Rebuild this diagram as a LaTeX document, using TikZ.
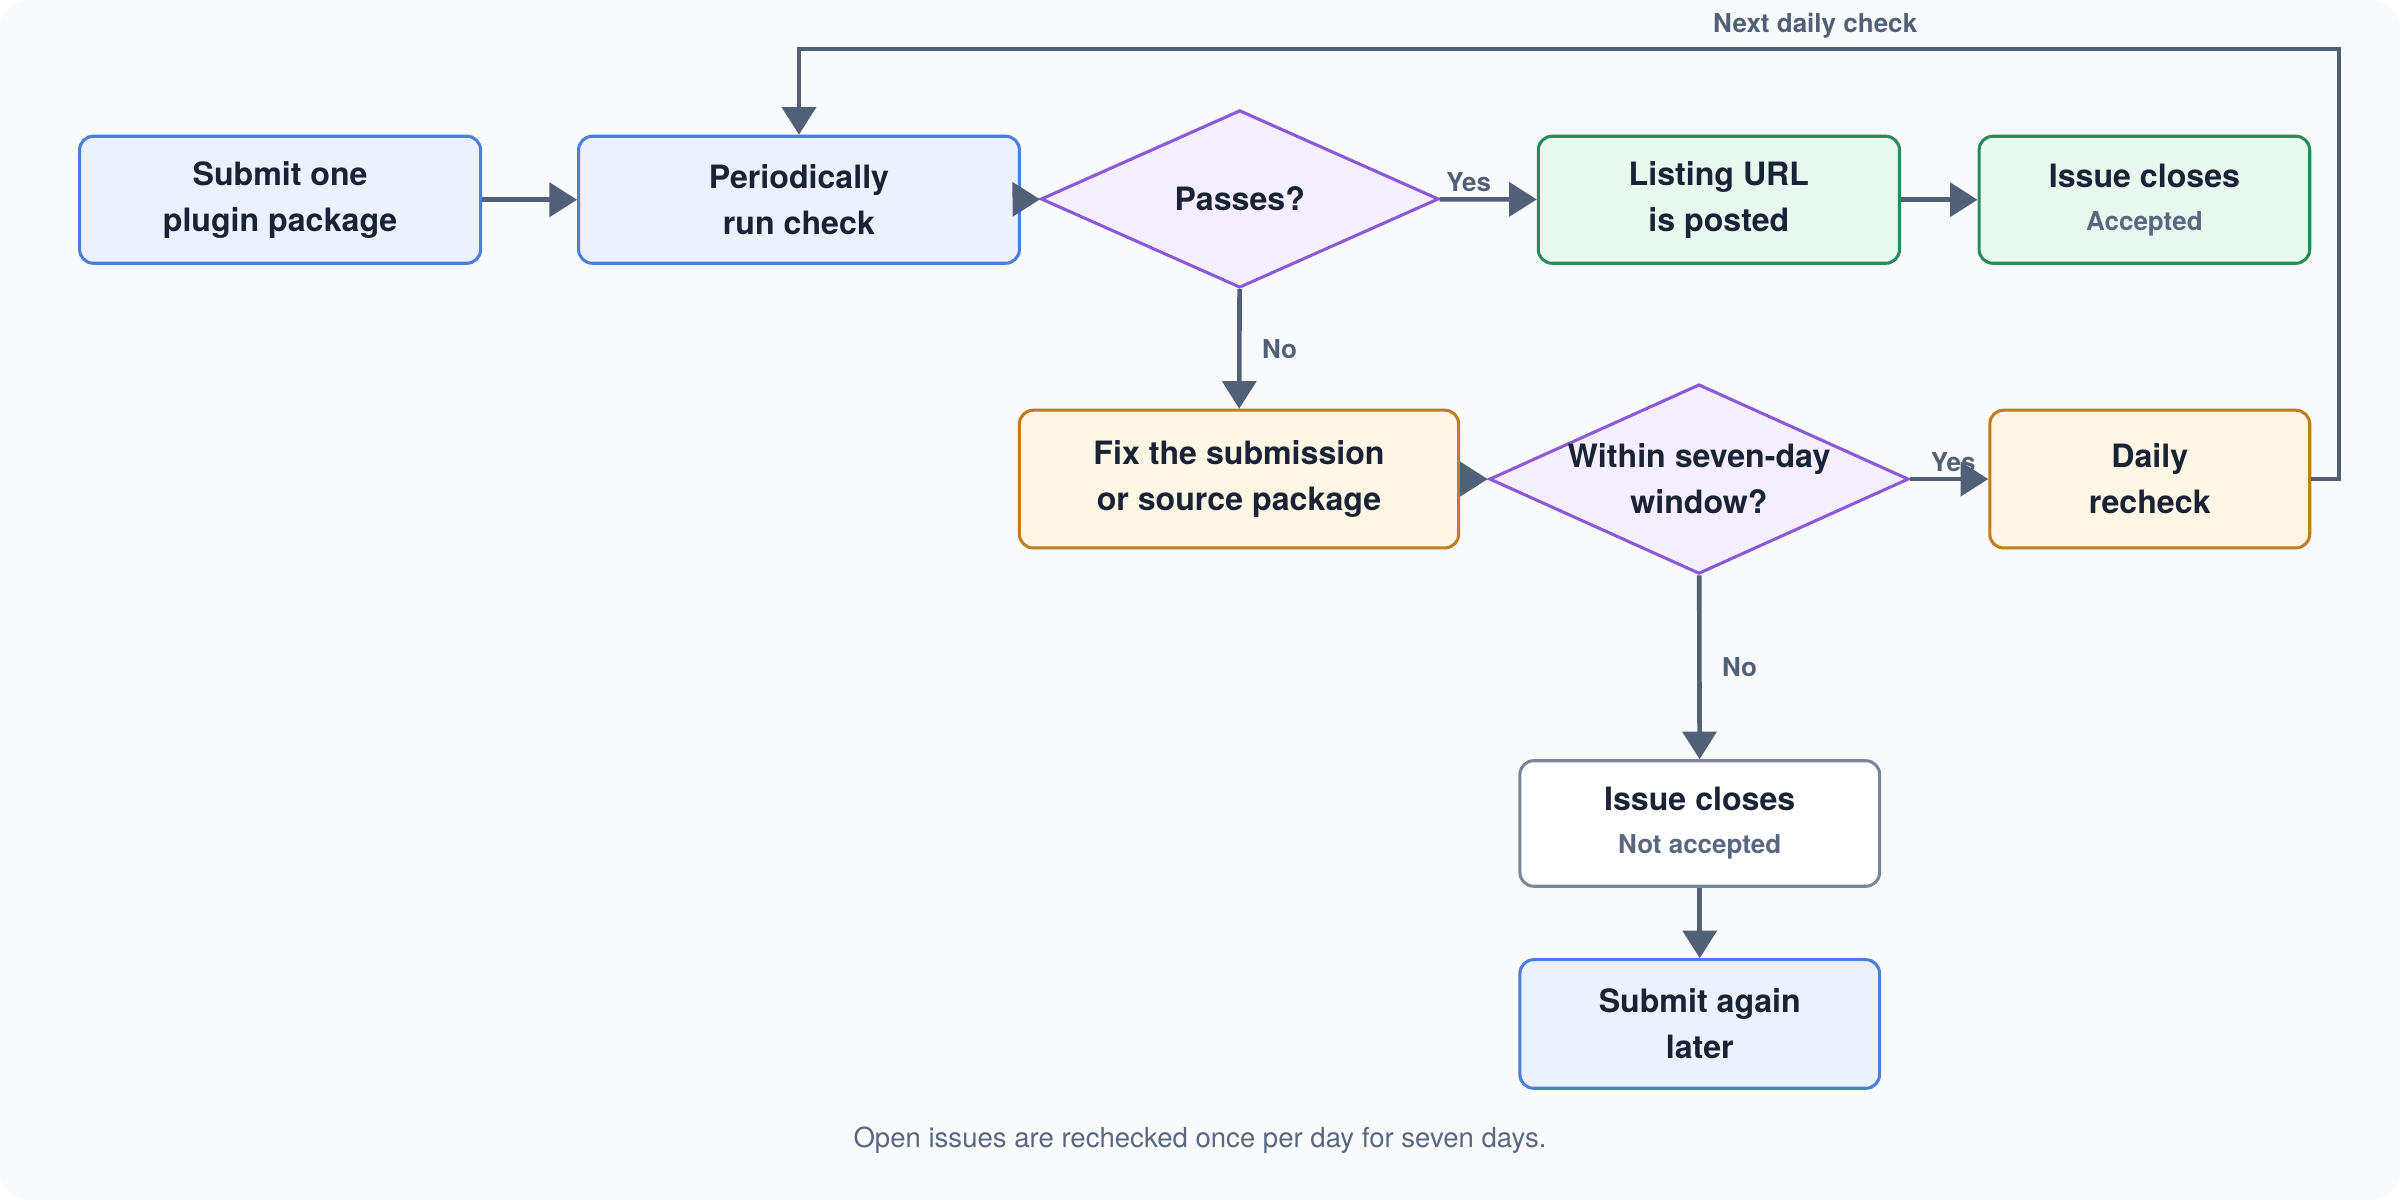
\documentclass[tikz,border=0pt]{standalone}
\usepackage{fontspec}
\setmainfont{TeX Gyre Heros}
\usetikzlibrary{shapes.geometric,arrows.meta}
\definecolor{ink}{HTML}{1A2236}
\definecolor{edge}{HTML}{526077}
\definecolor{sub}{HTML}{5A6780}
\definecolor{bfill}{HTML}{EBF2FE}\definecolor{bdraw}{HTML}{4A7FDB}
\definecolor{pfill}{HTML}{F5EEFE}\definecolor{pdraw}{HTML}{8A5AD9}
\definecolor{gfill}{HTML}{E8F8EF}\definecolor{gdraw}{HTML}{2A8A5A}
\definecolor{ofill}{HTML}{FEF6E4}\definecolor{odraw}{HTML}{C27D1E}
\definecolor{wdraw}{HTML}{7A8699}
\begin{document}
\begin{tikzpicture}[x=1pt,y=-1pt,
 box/.style={rounded corners=9pt,line width=2pt,align=center,text=ink,font=\fontsize{21}{30}\selectfont\bfseries,inner sep=0pt},
 blue/.style={box,fill=bfill,draw=bdraw},
 green/.style={box,fill=gfill,draw=gdraw},
 orange/.style={box,fill=ofill,draw=odraw},
 white/.style={box,fill=white,draw=wdraw},
 dia/.style={diamond,aspect=2.2,fill=pfill,draw=pdraw,line width=2pt,align=center,text=ink,font=\fontsize{21}{30}\selectfont\bfseries,inner sep=0pt},
 arr/.style={draw=edge,line width=3pt,-{Triangle[length=18pt,width=22pt]}},
 lab/.style={text=edge,font=\fontsize{17}{20}\selectfont\bfseries},
 sl/.style={text=sub,font=\fontsize{17}{20}\selectfont\bfseries}]
\fill[fill={rgb,255:red,248;green,250;blue,252},rounded corners=20pt] (0,0) rectangle (1568,784);
\useasboundingbox (0,0) rectangle (1568,784);
\node[blue,minimum width=262pt,minimum height=83pt] (submit) at (183,130.5) {Submit one\\plugin package};
\node[blue,minimum width=288pt,minimum height=83pt] (run) at (522,130.5) {Periodically\\run check};
\node[dia,minimum width=260pt,minimum height=116pt] (pass) at (810,130) {Passes?};
\node[green,minimum width=236pt,minimum height=83pt] (url) at (1123,130.5) {Listing URL\\is posted};
\node[green,minimum width=216pt,minimum height=83pt] (acc) at (1401,130.5) {Issue closes\\[-2pt]{\color{sub}\fontsize{17}{20}\selectfont Accepted}};
\node[orange,minimum width=287pt,minimum height=90pt] (fix) at (809.5,313) {Fix the submission\\or source package};
\node[dia,minimum width=274pt,minimum height=117pt] (win) at (1110,313) {Within seven-day\\window?};
\node[orange,minimum width=209pt,minimum height=90pt] (daily) at (1404.5,313) {Daily\\recheck};
\node[white,minimum width=235pt,minimum height=82pt] (nacc) at (1110.5,538) {Issue closes\\[-2pt]{\color{sub}\fontsize{17}{20}\selectfont Not accepted}};
\node[blue,minimum width=235pt,minimum height=84pt] (again) at (1110.5,669) {Submit again\\later};
\node[text=sub,font=\fontsize{18}{22}\selectfont] (foot) at (784,745) {Open issues are rechecked once per day for seven days.};
\coordinate (c1) at (1528,313); \coordinate (c2) at (1528,32); \coordinate (c3) at (522,32);
\draw[arr] (submit) -- (run);
\draw[arr] (run) -- (pass);
\draw[arr] (pass) -- node[lab,above,pos=0.3] {Yes} (url);
\draw[arr] (url) -- (acc);
\draw[arr] (pass) -- node[lab,right=10pt] {No} (fix);
\draw[arr] (fix) -- (win);
\draw[arr] (win) -- node[lab,above,pos=0.55] {Yes} (daily);
\draw[arr] (win) -- node[lab,right=10pt] {No} (nacc);
\draw[arr] (nacc) -- (again);
\draw[arr,rounded corners=0pt] (daily.east) -- (c1) -- (c2) -- node[lab,above=2pt,pos=0.34] {Next daily check} (c3) -- (run.north);
\end{tikzpicture}
\end{document}
